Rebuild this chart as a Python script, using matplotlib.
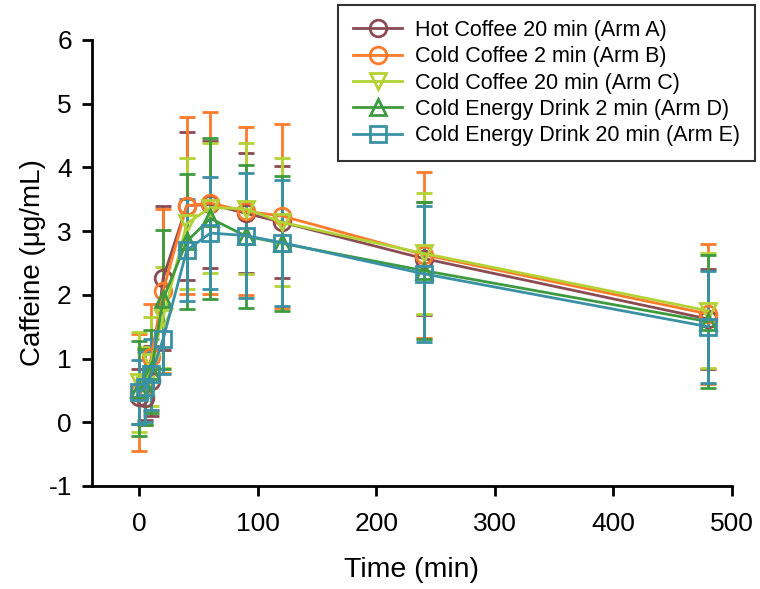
import numpy as np
import matplotlib
matplotlib.use("Agg")
import matplotlib.pyplot as plt
from matplotlib.lines import Line2D

plt.rcParams["font.family"] = ["Liberation Sans", "DejaVu Sans"]
plt.rcParams["axes.unicode_minus"] = False

# Sampling times (min)
time_min = [0, 5, 10, 20, 40, 60, 90, 120, 240, 480]

arm_labels = [
    "Hot Coffee 20 min (Arm A)",
    "Cold Coffee 2 min (Arm B)",
    "Cold Coffee 20 min (Arm C)",
    "Cold Energy Drink 2 min (Arm D)",
    "Cold Energy Drink 20 min (Arm E)",
]

# mean caffeine (ug/mL)
mean_a = [0.40, 0.38, 0.65, 2.26, 3.40, 3.42, 3.28, 3.14, 2.57, 1.62]
mean_b = [0.47, 0.55, 1.02, 2.06, 3.40, 3.44, 3.31, 3.24, 2.63, 1.70]
mean_c = [0.63, 0.58, 0.95, 1.64, 3.12, 3.37, 3.35, 3.14, 2.65, 1.75]
mean_d = [0.53, 0.55, 0.80, 1.93, 2.84, 3.20, 2.92, 2.81, 2.38, 1.58]
mean_e = [0.47, 0.55, 0.75, 1.30, 2.70, 2.97, 2.93, 2.82, 2.33, 1.50]

# standard deviations
sd_a = [0.43, 0.35, 0.55, 1.13, 1.16, 1.00, 0.94, 0.88, 0.88, 0.78]
sd_b = [0.92, 0.60, 0.83, 1.28, 1.39, 1.43, 1.32, 1.44, 1.30, 1.10]
sd_c = [0.78, 0.60, 0.70, 0.79, 1.03, 1.02, 1.03, 1.00, 0.95, 0.90]
sd_d = [0.75, 0.60, 0.65, 1.09, 1.06, 1.26, 1.12, 1.06, 1.08, 1.04]
sd_e = [0.50, 0.55, 0.55, 0.54, 0.80, 0.88, 0.98, 0.99, 1.07, 0.88]

means = [mean_a, mean_b, mean_c, mean_d, mean_e]
sds = [sd_a, sd_b, sd_c, sd_d, sd_e]
colors = ["#8a4b52", "#ff7b2c", "#b3d236", "#3d9a3f", "#3a91a6"]
markers = ["o", "o", "v", "^", "s"]

fig = plt.figure(figsize=(7.6, 5.89), dpi=100)
ax = fig.add_axes([0.121, 0.1749, 0.842, 0.7572])

handles = []
for m, s, c, mk, lab in zip(means, sds, colors, markers, arm_labels):
    ax.errorbar(time_min, m, yerr=s, color=c, marker=mk, markersize=12,
                markerfacecolor="none", markeredgewidth=2, linewidth=2,
                elinewidth=2, capsize=6, capthick=2)
    handles.append(Line2D([], [], color=c, marker=mk, markersize=12,
                          markerfacecolor="none", markeredgewidth=2,
                          linewidth=2, label=lab))

ax.set_xlim(-40, 500)
ax.set_ylim(-1, 6)
ax.set_xticks([0, 100, 200, 300, 400, 500])
ax.set_yticks(range(-1, 7))
ax.set_xlabel("Time (min)", fontsize=20.5, labelpad=15)
ax.set_ylabel("Caffeine (\u03bcg/mL)", fontsize=20, labelpad=2)
ax.tick_params(labelsize=19, length=7.5, width=2, direction="out")
ax.tick_params(axis="x", pad=11)
ax.tick_params(axis="y", pad=7)
for side in ["top", "right"]:
    ax.spines[side].set_visible(False)
for side in ["left", "bottom"]:
    ax.spines[side].set_linewidth(2)

leg = fig.legend(handles=handles, loc="upper right",
                 bbox_to_anchor=(0.994, 0.992), borderaxespad=0,
                 fontsize=15.5, frameon=True, fancybox=False,
                 edgecolor="black", handlelength=2.3, borderpad=0.7,
                 labelspacing=0.25, handletextpad=0.6)
leg.get_frame().set_linewidth(1.5)

fig.savefig("out.png", dpi=100)
